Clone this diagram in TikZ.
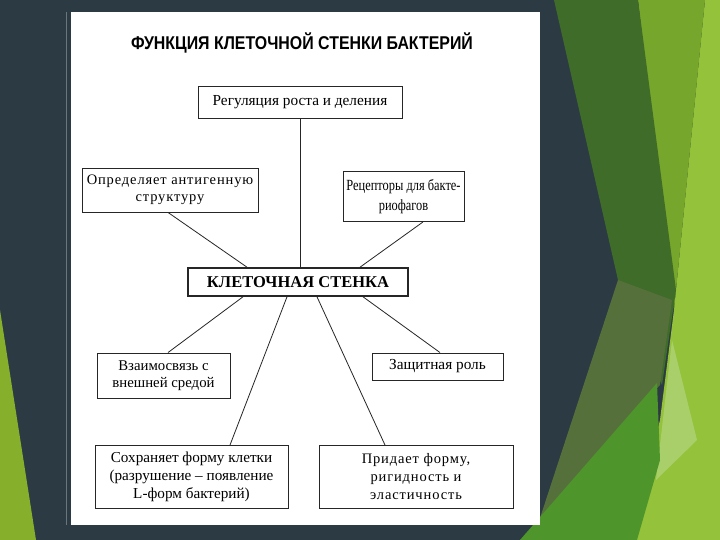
\documentclass[tikz,border=0pt]{standalone}
\usepackage{fontspec}
\setmainfont{Liberation Serif}
\newfontfamily\titlefont[FakeStretch=0.86]{Liberation Sans}
\newfontfamily\widefont[LetterSpace=6]{Liberation Serif}
\newfontfamily\narrowfont[FakeStretch=0.8]{Liberation Serif}
\usepackage{tikz}

\definecolor{slate}{HTML}{2C3A44}
\definecolor{darkgreen}{HTML}{3F6C29}
\definecolor{midgreen}{HTML}{76A62B}
\definecolor{lightgreen}{HTML}{94C23A}
\definecolor{palegreen}{HTML}{A9CF6B}
\definecolor{olive}{HTML}{56703C}
\definecolor{brightgreen}{HTML}{4E962B}
\definecolor{leftgreen}{HTML}{86B02C}

\tikzset{
  box/.style={draw=black!85, line width=0.9pt, inner sep=0pt, align=center,
    font=\fontsize{14.8}{17.5}\selectfont},
  link/.style={draw=black!85, line width=0.8pt}
}

\begin{document}
\begin{tikzpicture}[x=1pt, y=-1pt]
    \useasboundingbox (0,0) rectangle (720,540);

    % background of the slide
    \fill[slate] (0,0) rectangle (720,540);
    \fill[leftgreen] (0,310) -- (0,540) -- (36,540) -- cycle;
    \fill[lightgreen] (705,0) -- (720,0) -- (720,540) -- (630,540) -- (660,420) -- (674,310) -- cycle;
    \fill[midgreen] (638,0) -- (705,0) -- (674,310) -- cycle;
    \fill[darkgreen] (554,0) -- (638,0) -- (676,290) -- (662,385) -- (618,280) -- cycle;
    \fill[olive] (618,280) -- (672,300) -- (660,385) -- (540,518) -- cycle;
    \fill[palegreen] (672,340) -- (697,440) -- (656,480) -- cycle;
    \fill[brightgreen] (657,383) -- (660,460) -- (637,540) -- (520,540) -- cycle;

    % scanned page
    \draw[slate!70!white, line width=0.6pt] (66,12) -- (66,525);
    \fill[white] (71,12) rectangle (540,525);

    % title
    \node (title) at (302,43) {\titlefont\bfseries\fontsize{18.5}{21}\selectfont ФУНКЦИЯ КЛЕТОЧНОЙ СТЕНКИ БАКТЕРИЙ};

    % nodes
    \node[box, line width=1.6pt, minimum width=220pt, minimum height=28pt,
      font=\bfseries\fontsize{16.5}{19}\selectfont] (wall) at (298,282) {КЛЕТОЧНАЯ СТЕНКА};
    \node[box, minimum width=204pt, minimum height=32pt, font=\fontsize{15.3}{18}\selectfont] (reg) at (300,102) {Регуляция роста и деления};
    \node[box, minimum width=176pt, minimum height=44pt, font=\widefont\fontsize{14.5}{17.5}\selectfont] (anti) at (170,190) {Определяет антигенную\\структуру};
    \node[box, minimum width=121pt, minimum height=50pt, font=\narrowfont\fontsize{15.5}{20}\selectfont] (recep) at (403.5,196.5) {Рецепторы для бакте-\\риофагов};
    \node[box, minimum width=133pt, minimum height=45pt] (contact) at (163.5,375.5) {Взаимосвязь с\\внешней средой};
    \node[box, minimum width=131pt, minimum height=27pt, font=\fontsize{15.3}{18}\selectfont] (protect) at (437.5,366.5) {Защитная роль};
    \node[box, minimum width=193pt, minimum height=63pt, font=\fontsize{15.2}{18}\selectfont] (form) at (191.5,477) {Сохраняет форму клетки\\(разрушение – появление\\L-форм бактерий)};
    \node[box, minimum width=194pt, minimum height=63pt, font=\widefont\fontsize{14.5}{18}\selectfont] (rigid) at (416,477) {Придает форму,\\ригидность и\\эластичность};

    % connectors
    \draw[link] (reg.south) -- (reg.south |- wall.north);
    \draw[link] ([xshift=-2pt]anti.south) -- ([xshift=-51pt]wall.north);
    \draw[link] ([xshift=19.5pt]recep.south) -- ([xshift=62pt]wall.north);
    \draw[link] ([xshift=-55pt]wall.south) -- ([xshift=4.5pt]contact.north);
    \draw[link] ([xshift=-11pt]wall.south) -- ([xshift=38.5pt]form.north);
    \draw[link] ([xshift=19pt]wall.south) -- ([xshift=-31pt]rigid.north);
    \draw[link] ([xshift=65pt]wall.south) -- ([xshift=2.5pt]protect.north);
\end{tikzpicture}
\end{document}
